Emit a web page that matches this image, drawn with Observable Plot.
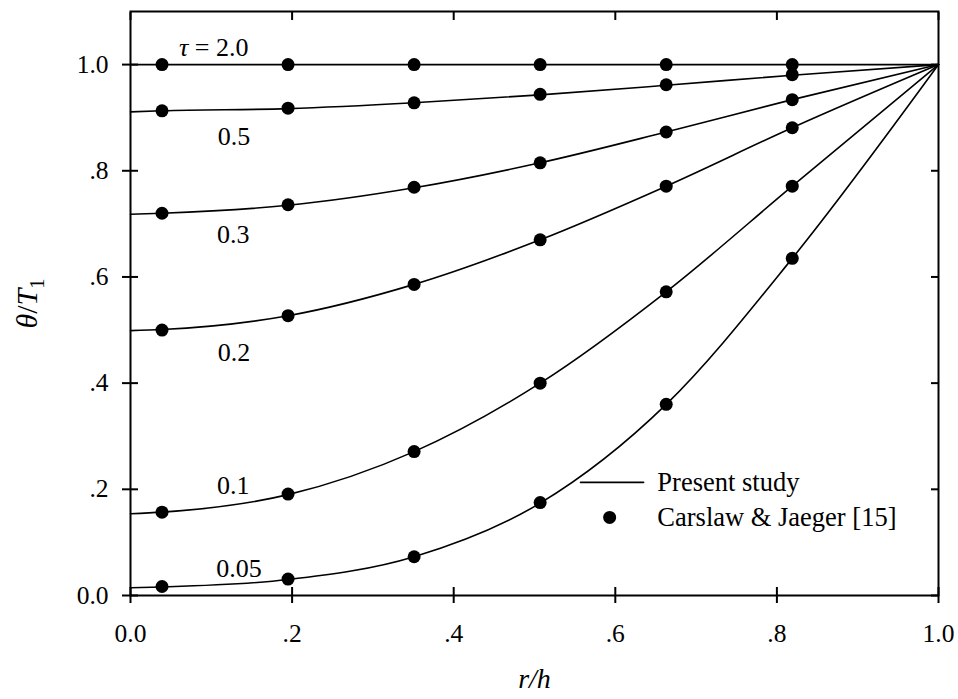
<!DOCTYPE html>
<html><head><meta charset="utf-8">
<script src="https://cdn.jsdelivr.net/npm/d3@7"></script>
<script src="https://cdn.jsdelivr.net/npm/@observablehq/plot@0.6"></script>
<style>
body{margin:0;background:#fff}
svg{display:block}
#chart svg, #chart svg text { font-family: "Liberation Serif", "Times New Roman", Times, serif !important; }
</style>
</head><body><div id="chart"></div>
<script>
// Axis ticks
const xTicks = [0, 0.2, 0.4, 0.6, 0.8, 1.0];
const xTickLabels = ["0.0", ".2", ".4", ".6", ".8", "1.0"];
const yTicks = [0, 0.2, 0.4, 0.6, 0.8, 1.0];
const yTickLabels = ["0.0", ".2", ".4", ".6", ".8", "1.0"];

// Carslaw & Jaeger [15] reference points
const rPoints = [0.039, 0.195, 0.351, 0.507, 0.663, 0.819];
const cj_tau2_0  = [1.000, 1.000, 1.000, 1.000, 1.000, 1.000];
const cj_tau0_5  = [0.913, 0.918, 0.928, 0.944, 0.962, 0.981];
const cj_tau0_3  = [0.720, 0.736, 0.769, 0.815, 0.873, 0.934];
const cj_tau0_2  = [0.500, 0.527, 0.586, 0.670, 0.771, 0.881];
const cj_tau0_1  = [0.157, 0.191, 0.271, 0.400, 0.572, 0.771];
const cj_tau0_05 = [0.017, 0.031, 0.073, 0.175, 0.360, 0.635];

// Present study curves
const rCurve = [0, 0.039, 0.195, 0.351, 0.507, 0.663, 0.819, 1.0];
const ps_tau2_0  = [1.000, 1.000, 1.000, 1.000, 1.000, 1.000, 1.000, 1.0];
const ps_tau0_5  = [0.911, 0.913, 0.917, 0.928, 0.943, 0.961, 0.980, 1.0];
const ps_tau0_3  = [0.718, 0.720, 0.735, 0.768, 0.815, 0.873, 0.934, 1.0];
const ps_tau0_2  = [0.499, 0.501, 0.527, 0.586, 0.670, 0.771, 0.881, 1.0];
const ps_tau0_1  = [0.154, 0.157, 0.190, 0.271, 0.400, 0.572, 0.771, 1.0];
const ps_tau0_05 = [0.0145, 0.016, 0.030, 0.073, 0.174, 0.360, 0.635, 1.0];

// Curve labels (annotations)
const labelText = ["τ = 2.0", "0.5", "0.3", "0.2", "0.1", "0.05"];
const labelX = [0.060, 0.108, 0.107, 0.108, 0.107, 0.106];
const labelY = [1.032, 0.864, 0.680, 0.458, 0.207, 0.051];

// Legend
const legendText = ["Present study", "Carslaw & Jaeger [15]"];
const legendRowY = [0.213, 0.147];
const legendLineX = [0.557, 0.635];
const legendDotX = 0.593;
const legendTextX = 0.652;

const cjSeries = [cj_tau2_0, cj_tau0_5, cj_tau0_3, cj_tau0_2, cj_tau0_1, cj_tau0_05];
const psSeries = [ps_tau2_0, ps_tau0_5, ps_tau0_3, ps_tau0_2, ps_tau0_1, ps_tau0_05];
const tauNames = ["2.0", "0.5", "0.3", "0.2", "0.1", "0.05"];

const dots = [];
cjSeries.forEach((s, k) => s.forEach((v, i) => dots.push({tau: tauNames[k], r: rPoints[i], t: v})));
const curves = [];
psSeries.forEach((s, k) => s.forEach((v, i) => curves.push({tau: tauNames[k], r: rCurve[i], t: v})));
const labels = labelText.map((t, i) => ({text: t, x: labelX[i], y: labelY[i]}));

const FONT = "Liberation Serif, Times New Roman, Times, serif";
const blank = () => "";

const chart = Plot.plot({
  width: 958,
  height: 699,
  marginLeft: 130,
  marginRight: 20,
  marginTop: 11,
  marginBottom: 104,
  style: {fontFamily: FONT, fontSize: "26px", color: "black", background: "white"},
  x: {domain: [0, 1]},
  y: {domain: [0, 1.1]},
  marks: [
    Plot.line(curves, {x: "r", y: "t", z: "tau", curve: "monotone-x", stroke: "black", strokeWidth: 1.6}),
    Plot.dot(dots, {x: "r", y: "t", r: 6.5, fill: "black", stroke: "none"}),
    Plot.text(labels, {x: "x", y: "y", text: "text", textAnchor: "start", fontSize: 26, fill: "black"}),
    // legend
    Plot.line(legendLineX.map(x => ({x, y: legendRowY[0]})), {x: "x", y: "y", stroke: "black", strokeWidth: 1.6}),
    Plot.dot([{x: legendDotX, y: legendRowY[1]}], {x: "x", y: "y", r: 6.5, fill: "black", stroke: "none"}),
    Plot.text(legendText.map((t, i) => ({t, x: legendTextX, y: legendRowY[i]})), {x: "x", y: "y", text: "t", textAnchor: "start", fontSize: 26.5, fill: "black"}),
    // axes
    Plot.axisX(xTicks, {anchor: "bottom", tickSize: 8, tickPadding: 20, strokeWidth: 2, fontSize: 25.5, label: null, tickFormat: d => xTickLabels[xTicks.indexOf(d)]}),
    Plot.axisX(xTicks, {anchor: "bottom", tickSize: 8, dy: -8, strokeWidth: 2, label: null, tickFormat: blank}),
    Plot.axisX(xTicks, {anchor: "top", tickSize: 8, dy: 8, strokeWidth: 2, label: null, tickFormat: blank}),
    Plot.axisY(yTicks, {anchor: "left", tickSize: 8, tickPadding: 14, strokeWidth: 2, fontSize: 25.5, label: null, tickFormat: d => yTickLabels[yTicks.indexOf(d)]}),
    Plot.axisY(yTicks, {anchor: "left", tickSize: 8, dx: 8, strokeWidth: 2, label: null, tickFormat: blank}),
    Plot.axisY(yTicks, {anchor: "right", tickSize: 8, dx: -8, strokeWidth: 2, label: null, tickFormat: blank}),
    Plot.frame({stroke: "black", strokeWidth: 2}),
    // axis titles
    Plot.text(["r/h"], {frameAnchor: "bottom", dy: 92, fontSize: 28, fontStyle: "italic", fill: "black"}),
    Plot.text(["θ/T1"], {frameAnchor: "left", textAnchor: "middle", dx: -103, rotate: -90, fontSize: 30, fill: "black"})
  ]
});

document.getElementById("chart").appendChild(chart);

// Rich text for math labels
const svg = d3.select(chart);
svg.selectAll("text").attr("font-family", FONT);
svg.selectAll("text").filter(function () { return this.textContent === "θ/T1"; }).each(function () {
  const t = d3.select(this);
  t.text(null);
  t.append("tspan").attr("font-style", "italic").text("θ");
  t.append("tspan").text("/");
  t.append("tspan").attr("font-style", "italic").text("T");
  t.append("tspan").attr("font-size", "0.68em").attr("dy", "0.35em").text("1");
});
svg.selectAll("text").filter(function () { return this.textContent === "τ = 2.0"; }).each(function () {
  const t = d3.select(this);
  t.text(null);
  t.append("tspan").attr("font-style", "italic").text("τ");
  t.append("tspan").text(" = 2.0");
});
</script>
</body></html>
